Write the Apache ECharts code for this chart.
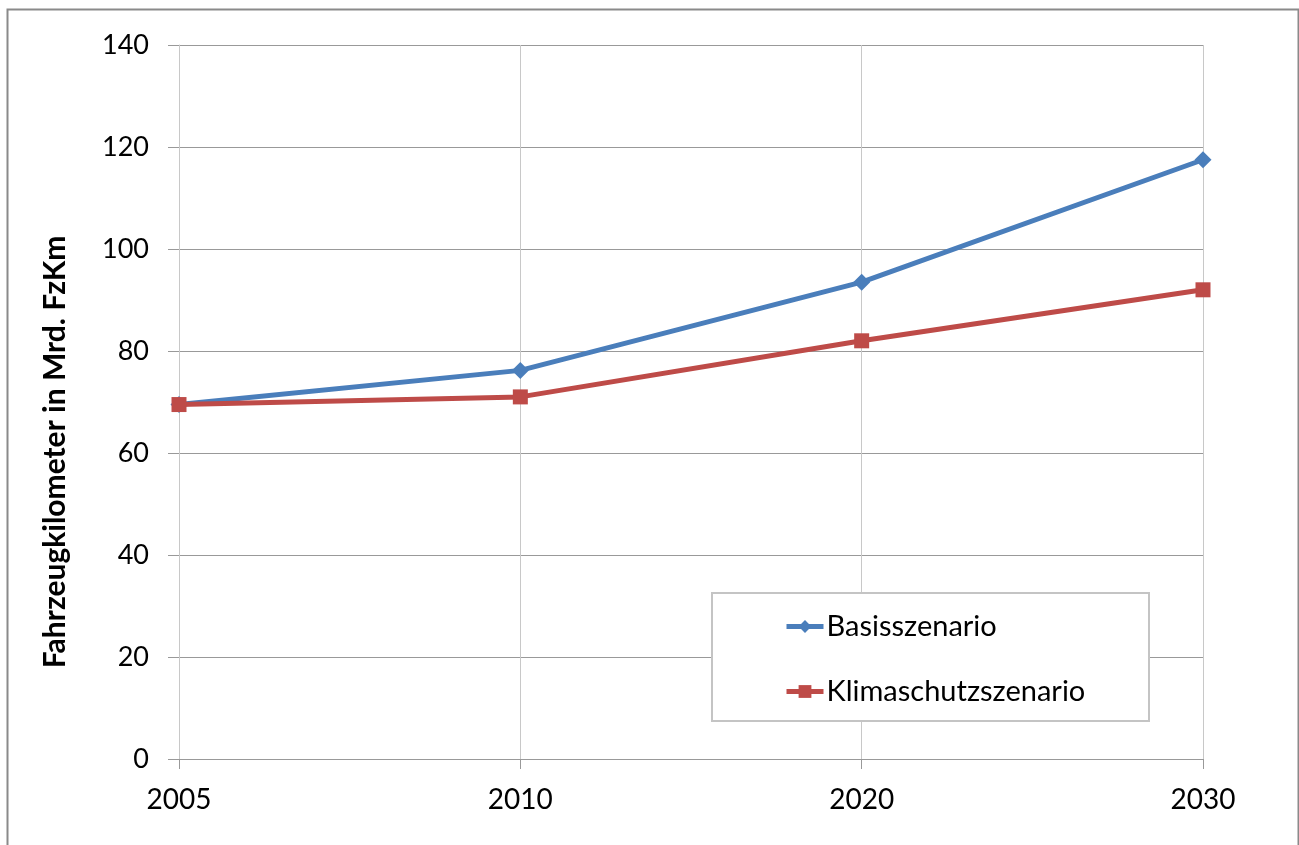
<!DOCTYPE html>
<html>
<head>
<meta charset="utf-8">
<script src="https://cdn.jsdelivr.net/npm/echarts@6/dist/echarts.min.js"></script>
<style>
html, body { margin: 0; padding: 0; background: #fff; }
#chart { width: 1299px; height: 845px; }
</style>
</head>
<body>
<div id="chart"></div>
<script>
var years = ['2005', '2010', '2020', '2030'];
var basisWerte = [69.5, 76.2, 93.5, 117.5];
var klimaWerte = [69.5, 71.0, 82.0, 92.0];
var yTicks = { min: 0, max: 140, interval: 20 };

var chart = echarts.init(document.getElementById('chart'));
var fontName = 'Lato, "Open Sans", sans-serif';

var option = {
    animation: false,
    backgroundColor: '#fff',
    grid: { left: 179, right: 96, top: 45, bottom: 86 },
    // Rahmen aussen + Legendenkasten
    graphic: [
        {
            type: 'rect', left: 5, top: 7, z: -1,
            shape: { width: 1291, height: 860 },
            style: { fill: 'none', stroke: '#8a8a8a', lineWidth: 2 }
        },
        {
            type: 'rect', left: 711, top: 592, z: 10,
            shape: { width: 437, height: 128 },
            style: { fill: '#fff', stroke: '#c4c4c4', lineWidth: 2 }
        }
    ],
    legend: {
        orient: 'vertical',
        left: 779,
        top: 607,
        z: 20,
        itemGap: 36,
        itemWidth: 37,
        itemHeight: 16,
        lineStyle: { width: 5 },
        textStyle: { fontFamily: fontName, fontSize: 29, color: '#000', padding: [0, 0, 0, -2] },
        data: ['Basisszenario', 'Klimaschutzszenario']
    },
    xAxis: {
        type: 'category',
        data: years,
        boundaryGap: false,
        axisLine: { lineStyle: { color: '#999', width: 1 } },
        axisTick: { show: true, length: 10, lineStyle: { color: '#999' } },
        axisLabel: { fontFamily: fontName, fontSize: 28, color: '#000', margin: 27 },
        splitLine: { show: true, lineStyle: { color: '#c8c8c8', width: 1 } }
    },
    yAxis: {
        type: 'value',
        min: yTicks.min,
        max: yTicks.max,
        interval: yTicks.interval,
        name: 'Fahrzeugkilometer in Mrd. FzKm',
        nameLocation: 'middle',
        nameGap: 109,
        nameTextStyle: { fontFamily: fontName, fontSize: 30, fontWeight: 'bold', color: '#000', padding: [0, 100, 0, 0] },
        axisLine: { show: true, lineStyle: { color: '#c8c8c8', width: 1 } },
        axisTick: { show: true, length: 11, lineStyle: { color: '#999' } },
        axisLabel: { fontFamily: fontName, fontSize: 27, color: '#000', margin: 30 },
        splitLine: { show: true, lineStyle: { color: '#999', width: 1 } }
    },
    series: [
        {
            name: 'Basisszenario',
            type: 'line',
            data: basisWerte,
            color: '#4a7ebb',
            symbol: 'diamond',
            symbolSize: 17,
            lineStyle: { width: 5 },
            z: 3
        },
        {
            name: 'Klimaschutzszenario',
            type: 'line',
            data: klimaWerte,
            color: '#be4b48',
            symbol: 'rect',
            symbolSize: 15,
            lineStyle: { width: 5 },
            z: 4
        }
    ]
};
chart.setOption(option);
</script>
</body>
</html>
